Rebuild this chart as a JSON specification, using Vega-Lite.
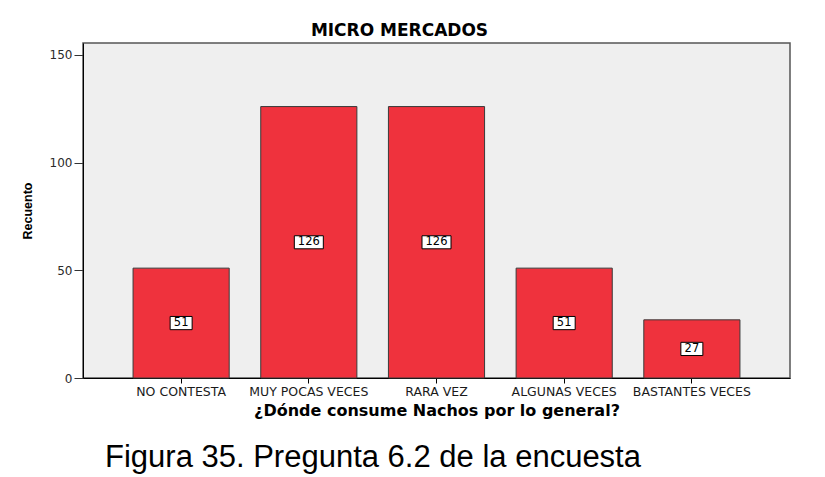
{
  "$schema": "https://vega.github.io/schema/vega-lite/v6.json",
  "width": 707,
  "height": 335,
  "autosize": {"type": "none"},
  "padding": {"left": 83, "top": 43, "right": 35, "bottom": 99},
  "background": "white",
  "title": {
    "text": "Figura 35. Pregunta 6.2 de la encuesta",
    "orient": "bottom",
    "anchor": "start",
    "frame": "group",
    "dx": 22,
    "offset": 24,
    "font": "Liberation Sans",
    "fontSize": 31,
    "fontWeight": "normal",
    "color": "#000000"
  },
  "data": {
    "values": [
      {"Categoria": "NO CONTESTA", "Recuento": 51},
      {"Categoria": "MUY POCAS VECES", "Recuento": 126},
      {"Categoria": "RARA VEZ", "Recuento": 126},
      {"Categoria": "ALGUNAS VECES", "Recuento": 51},
      {"Categoria": "BASTANTES VECES", "Recuento": 27}
    ]
  },
  "transform": [{"calculate": "datum.Recuento / 2", "as": "centro"}],
  "resolve": {"axis": {"x": "independent"}},
  "layer": [
    {
      "mark": {"type": "bar", "fill": "#EF323D", "stroke": "#3A3A3A", "strokeWidth": 1},
      "encoding": {
        "x": {
          "field": "Categoria",
          "type": "nominal",
          "sort": null,
          "scale": {"paddingInner": 0.247, "paddingOuter": 0.392},
          "axis": {
            "orient": "bottom",
            "title": "¿Dónde consume Nachos por lo general?",
            "titleFont": "DejaVu Sans",
            "titleFontSize": 16,
            "titleFontWeight": "bold",
            "titleColor": "#000000",
            "titlePadding": 5,
            "labelAngle": 0,
            "labelFont": "DejaVu Sans",
            "labelFontSize": 12.5,
            "labelColor": "#1A1A1A",
            "labelPadding": 2,
            "labelLimit": 200,
            "tickSize": 5,
            "tickColor": "#000000",
            "domainColor": "#000000",
            "grid": false
          }
        },
        "y": {
          "field": "Recuento",
          "type": "quantitative",
          "scale": {"domain": [0, 155.5], "nice": false},
          "axis": {
            "title": "Recuento",
            "titleFont": "Liberation Sans",
            "titleFontSize": 12.5,
            "titleFontWeight": "bold",
            "titleColor": "#000000",
            "titlePadding": 15,
            "values": [0, 50, 100, 150],
            "labelFont": "DejaVu Sans",
            "labelFontSize": 12,
            "labelColor": "#2A2A2A",
            "labelPadding": 2,
            "tickSize": 9,
            "tickColor": "#333333",
            "domainColor": "#000000",
            "grid": false
          }
        }
      }
    },
    {
      "mark": {
        "type": "point",
        "filled": true,
        "fill": "#FFFFFF",
        "stroke": "#000000",
        "strokeWidth": 1,
        "opacity": 1
      },
      "encoding": {
        "x": {
          "field": "Categoria",
          "type": "nominal",
          "sort": null,
          "axis": {
            "orient": "top",
            "title": "MICRO MERCADOS",
            "titleFont": "DejaVu Sans",
            "titleFontSize": 17,
            "titleFontWeight": "bold",
            "titleColor": "#000000",
            "titlePadding": 4,
            "titleX": 316,
            "titleAlign": "center",
            "labels": false,
            "ticks": false,
            "domain": false
          }
        },
        "y": {"field": "centro", "type": "quantitative"},
        "shape": {
          "condition": {"test": "datum.Recuento >= 100", "value": "M-1,-0.45L1,-0.45L1,0.45L-1,0.45Z"},
          "value": "M-1,-0.6L1,-0.6L1,0.6L-1,0.6Z"
        },
        "size": {
          "condition": {"test": "datum.Recuento >= 100", "value": 841},
          "value": 484
        }
      }
    },
    {
      "mark": {"type": "text", "font": "DejaVu Sans", "fontSize": 11.5, "color": "#000000", "align": "center", "baseline": "middle"},
      "encoding": {
        "x": {"field": "Categoria", "type": "nominal", "sort": null, "axis": null},
        "y": {"field": "centro", "type": "quantitative"},
        "text": {"field": "Recuento", "type": "quantitative"}
      }
    }
  ],
  "config": {
    "view": {"fill": "#EFEFEF", "stroke": "#555555", "strokeWidth": 1.5}
  }
}
